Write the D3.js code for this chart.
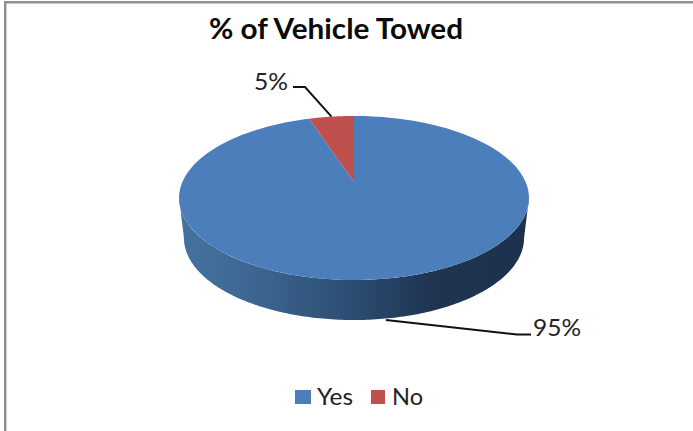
<!DOCTYPE html>
<html><head><meta charset="utf-8">
<script src="https://cdn.jsdelivr.net/npm/d3@7"></script>
<style>html,body{margin:0;padding:0;background:#fff}svg{display:block}</style></head>
<body><div id="chart"></div>
<script>
const categories = ["Yes", "No"];
const values = [95, 5];
const labels = ["95%", "5%"];
const colors = ["#4c7ebb", "#c0504d"];
const title = "% of Vehicle Towed";

const W = 693, H = 431;
const svg = d3.select("#chart").append("svg").attr("width", W).attr("height", H);
const defs = svg.append("defs");
const grad = defs.append("linearGradient").attr("id", "side")
  .attr("gradientUnits", "userSpaceOnUse").attr("x1", 180).attr("x2", 528).attr("y1", 0).attr("y2", 0);
[[0, "#44739f"], [0.2, "#3d6792"], [0.5, "#2b4c72"], [0.72, "#1f3552"], [1, "#1d314d"]]
  .forEach(([o, c]) => grad.append("stop").attr("offset", o).attr("stop-color", c));

// frame
svg.append("path").attr("d", `M5.2 ${H}V2.2H${W}`).attr("fill", "none").attr("stroke", "#8e8e8e").attr("stroke-width", 2.4);

const font = "Lato,'Open Sans',sans-serif";
svg.append("text").attr("x", 336).attr("y", 39).attr("text-anchor", "middle")
  .attr("font-family", font).attr("font-size", 28).attr("font-weight", 700)
  .attr("textLength", 254).attr("lengthAdjust", "spacingAndGlyphs").attr("fill", "#0a0a0a").text(title);

// perspective mapping of the pie plane
const cx = 354, apexY = 182, k = 0.195, bx = 171.6, by = 78.9;
const project = (a, r = 1) => {
  const u = Math.sin(a) * r, v = Math.cos(a) * r, d = 1 + k * v;
  return [cx + bx * u / d, apexY - by * v / d];
};
const pie = d3.pie().sort(null).value(d => d)(values);
const line = d3.line();
const rim = (a0, a1) => d3.range(0, 181).map(i => project(a0 + (a1 - a0) * i / 180));

// side wall: lower half of the extruded disc, from the widest rim points
const sideDepth = 40, sideShrink = 0.972, widest = Math.acos(-k);
const lower = ([x, y]) => [cx + (x - cx) * sideShrink, y + sideDepth];
const front = rim(widest, 2 * Math.PI - widest);
svg.append("path").attr("d", line(front.concat(front.slice().reverse().map(lower))) + "Z").attr("fill", "url(#side)");

// top faces
svg.append("g").selectAll("path").data(pie).join("path")
  .attr("d", d => line([project(0, 0), ...rim(d.startAngle, d.endAngle)]) + "Z")
  .attr("fill", (d, i) => colors[i]);

// leader lines
const anchorNo = project((pie[1].startAngle + pie[1].endAngle) / 2);
svg.append("path").attr("d", line([anchorNo, [305, 87], [293, 87]]))
  .attr("fill", "none").attr("stroke", "#111").attr("stroke-width", 1.9);
svg.append("path").attr("d", line([[386, 320], [517, 334.5], [531, 334.5]]))
  .attr("fill", "none").attr("stroke", "#111").attr("stroke-width", 1.9);

const addText = (x, y, s, len) => svg.append("text").attr("x", x).attr("y", y)
  .attr("font-family", font).attr("font-size", 24).attr("fill", "#222")
  .attr("textLength", len).attr("lengthAdjust", "spacingAndGlyphs").text(s);
addText(254, 90, labels[1], 34);
addText(533, 336, labels[0], 48);

// legend
const legendX = [295, 371], textX = [317, 392], textLen = [36, 31];
categories.forEach((c, i) => {
  svg.append("rect").attr("x", legendX[i]).attr("y", 390).attr("width", i ? 14 : 16).attr("height", 14).attr("fill", colors[i]);
  addText(textX[i], 405, c, textLen[i]);
});
</script></body></html>
